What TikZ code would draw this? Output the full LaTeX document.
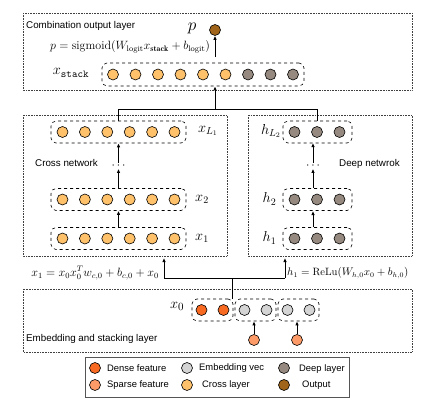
\documentclass[tikz,border=0pt]{standalone}
\usepackage{fontspec}
\setsansfont{Liberation Sans}
\usetikzlibrary{arrows.meta}
\definecolor{densec}{HTML}{F86A22}
\definecolor{sparsec}{HTML}{FC9B68}
\definecolor{embc}{HTML}{D4D4D4}
\definecolor{crossc}{HTML}{FFC26B}
\definecolor{deepc}{HTML}{968A80}
\definecolor{outc}{HTML}{A0651A}
\definecolor{legbd}{HTML}{555555}
\begin{document}
\begin{tikzpicture}[x=1pt,y=-1pt,
  layerbox/.style={draw, densely dotted, line width=0.6pt, black!75},
  vecbox/.style={draw, dashed, rounded corners=5pt, line width=0.6pt, inner sep=0pt},
  cir/.style={circle, draw, line width=0.6pt, minimum size=11pt, inner sep=0pt},
  arr/.style={-{Latex[length=4pt,width=3.5pt]}, line width=0.8pt},
  ln/.style={line width=0.8pt},
  lbl/.style={font=\sffamily\fontsize{9.8}{11}\selectfont, inner sep=0pt, anchor=west},
  leg/.style={font=\sffamily\fontsize{9.4}{11}\selectfont, inner sep=0pt, anchor=west},
  mth/.style={inner sep=0pt}
]
\useasboundingbox (0,0) rectangle (433,412);

% layer boxes
\draw[layerbox] (23,13) rectangle (412,90);
\draw[layerbox] (23,115) rectangle (227,256);
\draw[layerbox] (248,115) rectangle (412,256);
\draw[layerbox] (23,289) rectangle (412,352);

\node[lbl] (tcomb) at (26,26) {Combination output layer};
\node[lbl] (tcross) at (35,163) {Cross network};
\node[lbl] (tdeep) at (339,164) {Deep netwrok};
\node[lbl] (temb) at (26,339) {Embedding and stacking layer};

% output
\node[cir, fill=outc] (out) at (215,30) {};
\node[mth, font=\fontsize{17}{17}\selectfont] (plbl) at (192,28) {$p$};
\node[mth, font=\fontsize{12}{13}\selectfont] (pform) at (130,47) {$p=\mathrm{sigmoid}(W_{\mathrm{logit}}x_{\mathbf{stack}}+b_{\mathrm{logit}})$};

% x_stack
\node[vecbox, minimum width=202pt, minimum height=23pt] (xs) at (203,74.5) {};
\foreach \i in {0,...,5} \node[cir, fill=crossc] (xs\i) at ({113+22.5*\i},74.5) {};
\foreach \i in {6,7,8} \node[cir, fill=deepc] (xs\i) at ({113+22.5*\i},74.5) {};
\node[mth, font=\fontsize{15}{15}\selectfont] (xslbl) at (71,73) {$x_{\mathtt{stack}}$};

% cross network
\node[vecbox, minimum width=135pt, minimum height=22pt] (xL) at (118.5,132) {};
\node[vecbox, minimum width=135pt, minimum height=22pt] (x2) at (118.5,199.5) {};
\node[vecbox, minimum width=135pt, minimum height=22pt] (x1) at (118.5,238.5) {};
\foreach \b/\yy in {xL/132,x2/199.5,x1/238.5}
  \foreach \i in {0,...,5} \node[cir, fill=crossc] (\b c\i) at ({62.5+22.4*\i},\yy) {};
\node[mth, font=\fontsize{14}{14}\selectfont] (xLlbl) at (208,131) {$x_{L_1}$};
\node[mth, font=\fontsize{14}{14}\selectfont] (x2lbl) at (202,199) {$x_2$};
\node[mth, font=\fontsize{14}{14}\selectfont] (x1lbl) at (202,238) {$x_1$};
\node[mth, font=\fontsize{12}{12}\selectfont] (cdots) at (118.5,166) {$\cdots$};
\draw[arr] (x1.north) -- (x2.south);
\draw[arr] (x2.north) -- (cdots.south);
\draw[arr] (cdots.north) -- (xL.south);

% deep network
\node[vecbox, minimum width=69pt, minimum height=22pt] (hL) at (317.5,132) {};
\node[vecbox, minimum width=69pt, minimum height=22pt] (h2) at (317.5,199.5) {};
\node[vecbox, minimum width=69pt, minimum height=22pt] (h1) at (317.5,238.5) {};
\foreach \b/\yy in {hL/132,h2/199.5,h1/238.5}
  \foreach \i in {0,1,2} \node[cir, fill=deepc] (\b c\i) at ({294.5+22.5*\i},\yy) {};
\node[mth, font=\fontsize{14}{14}\selectfont] (hLlbl) at (271,131) {$h_{L_2}$};
\node[mth, font=\fontsize{14}{14}\selectfont] (h2lbl) at (269.5,199) {$h_2$};
\node[mth, font=\fontsize{14}{14}\selectfont] (h1lbl) at (269.5,238) {$h_1$};
\node[mth, font=\fontsize{12}{12}\selectfont] (hdots) at (313,166) {$\cdots$};
\coordinate (h1t) at (313,227);
\coordinate (h2b) at (313,211);
\coordinate (h2t) at (313,188);
\coordinate (hLb) at (313,143);
\draw[arr] (h1t) -- (h2b);
\draw[arr] (h2t) -- (hdots.south -| h2t);
\draw[arr] (hdots.north -| h2t) -- (hLb);

% top merge
\coordinate (mL) at (118.5,109);
\coordinate (mR) at (317.5,109);
\coordinate (mC) at (215,109);
\draw[ln] (xL.north) -- (mL) -- (mR) -- (hL.north);
\draw[arr] (mC) -- (mC |- xs.south);
\coordinate (oa) at (215,57);
\draw[arr] (oa) -- (out.south);

% embedding
\node[vecbox, minimum width=41pt, minimum height=22pt] (xd) at (212.5,310) {};
\node[vecbox, minimum width=41pt, minimum height=22pt] (xe1) at (255.5,310) {};
\node[vecbox, minimum width=41pt, minimum height=22pt] (xe2) at (298.5,310) {};
\node[cir, fill=densec] (d0) at (201.5,310) {};
\node[cir, fill=densec] (d1) at (223.5,310) {};
\node[cir, fill=embc] (e0) at (244.5,310) {};
\node[cir, fill=embc] (e1) at (266.5,310) {};
\node[cir, fill=embc] (e2) at (287.5,310) {};
\node[cir, fill=embc] (e3) at (309.5,310) {};
\node[cir, fill=sparsec] (s0) at (254,340) {};
\node[cir, fill=sparsec] (s1) at (297,340) {};
\draw[arr] (s0.north) -- (s0.north |- xe1.south);
\draw[arr] (s1.north) -- (s1.north |- xe2.south);
\node[mth, font=\fontsize{15}{15}\selectfont] (x0lbl) at (177,306) {$x_0$};

% bottom split
\coordinate (bC) at (232,278);
\coordinate (bL) at (164,278);
\coordinate (bR) at (285,278);
\coordinate (bLt) at (164,258);
\coordinate (bRt) at (285,258);
\draw[ln] (bC |- xd.north) -- (bC);
\draw[ln] (bL) -- (bR);
\draw[arr] (bL) -- (bLt);
\draw[arr] (bR) -- (bRt);
\node[mth, font=\fontsize{11.5}{13}\selectfont, anchor=east] (f1) at (159,273) {$x_1=x_0x_0^Tw_{c,0}+b_{c,0}+x_0$};
\node[mth, font=\fontsize{10.6}{12}\selectfont, anchor=west] (f2) at (287,273) {$h_1=\mathrm{ReLu}(W_{h,0}x_0+b_{h,0})$};

% legend
\draw[draw=legbd, line width=1pt] (85,357) rectangle (349,397);
\node[cir, fill=densec] (l1) at (95,368) {};
\node[leg] (l1t) at (107,368) {Dense feature};
\node[cir, fill=sparsec] (l2) at (95,385) {};
\node[leg] (l2t) at (107,385) {Sparse feature};
\node[cir, fill=embc] (l3) at (187,368) {};
\node[leg] (l3t) at (199,368) {Embedding vec};
\node[cir, fill=crossc] (l4) at (187,385) {};
\node[leg] (l4t) at (202,385) {Cross layer};
\node[cir, fill=deepc] (l5) at (284,368) {};
\node[leg] (l5t) at (299,369) {Deep layer};
\node[cir, fill=outc] (l6) at (284,385) {};
\node[leg] (l6t) at (302,385) {Output};
\end{tikzpicture}
\end{document}
